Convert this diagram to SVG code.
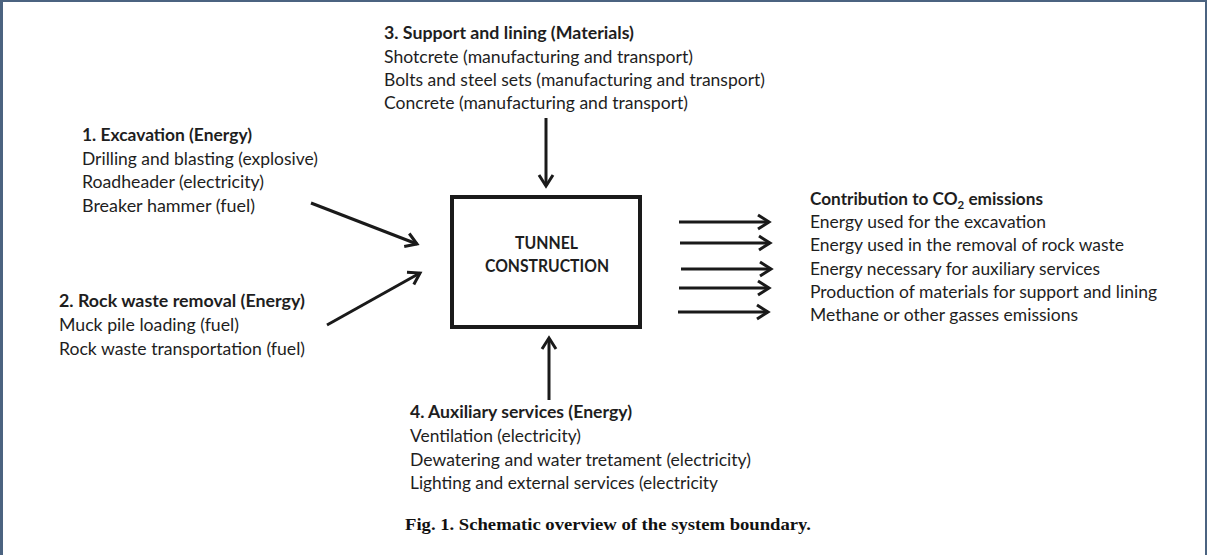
<svg xmlns="http://www.w3.org/2000/svg" width="1207" height="555" viewBox="0 0 1207 555">
<style>
.t{font-family:Lato,"Open Sans","Liberation Sans",sans-serif;font-size:16.5px;fill:#1e1e1e}
.b{font-weight:bold}
.c{font-family:"Liberation Serif",serif;font-size:17px;font-weight:bold;fill:#111}
.ln{stroke:#1a1a1a;stroke-width:3;fill:none}
</style>
<defs>
<marker id="ah" markerUnits="userSpaceOnUse" markerWidth="20" markerHeight="20" viewBox="-14 -10 20 20" refX="0" refY="0" orient="auto">
<path d="M-11,-7 L0,0 L-11,7" fill="none" stroke="#1a1a1a" stroke-width="3"/>
</marker>
</defs>
<rect x="0" y="0" width="1207" height="555" fill="#ffffff"/>
<rect x="0" y="0" width="1207" height="2" fill="#4b6380"/>
<rect x="0" y="0" width="3" height="555" fill="#4b6380"/>
<rect x="1205" y="0" width="2" height="555" fill="#4b6380"/>

<g id="box">
<rect x="452" y="197" width="188" height="130" fill="#fff" stroke="#1a1a1a" stroke-width="4"/>
<text class="t b" x="546.5" y="249" text-anchor="middle" font-size="15" textLength="63" lengthAdjust="spacingAndGlyphs">TUNNEL</text>
<text class="t b" x="547" y="272" text-anchor="middle" font-size="15" textLength="124" lengthAdjust="spacingAndGlyphs">CONSTRUCTION</text>
</g>

<g id="support">
<text class="t b" x="384" y="39" textLength="250" lengthAdjust="spacingAndGlyphs">3. Support and lining (Materials)</text>
<text class="t" x="384" y="62.5" textLength="309" lengthAdjust="spacingAndGlyphs">Shotcrete (manufacturing and transport)</text>
<text class="t" x="384" y="86" textLength="381" lengthAdjust="spacingAndGlyphs">Bolts and steel sets (manufacturing and transport)</text>
<text class="t" x="384" y="109" textLength="304" lengthAdjust="spacingAndGlyphs">Concrete (manufacturing and transport)</text>
</g>

<g id="excavation">
<text class="t b" x="82" y="141" textLength="170" lengthAdjust="spacingAndGlyphs">1. Excavation (Energy)</text>
<text class="t" x="82" y="164.5" textLength="236" lengthAdjust="spacingAndGlyphs">Drilling and blasting (explosive)</text>
<text class="t" x="82" y="188" textLength="182" lengthAdjust="spacingAndGlyphs">Roadheader (electricity)</text>
<text class="t" x="82" y="211.5" textLength="173" lengthAdjust="spacingAndGlyphs">Breaker hammer (fuel)</text>
</g>

<g id="rockwaste">
<text class="t b" x="59" y="307" textLength="246" lengthAdjust="spacingAndGlyphs">2. Rock waste removal (Energy)</text>
<text class="t" x="59" y="331" textLength="180" lengthAdjust="spacingAndGlyphs">Muck pile loading (fuel)</text>
<text class="t" x="59" y="354.5" textLength="246" lengthAdjust="spacingAndGlyphs">Rock waste transportation (fuel)</text>
</g>

<g id="auxiliary">
<text class="t b" x="410" y="418" textLength="222" lengthAdjust="spacingAndGlyphs">4. Auxiliary services (Energy)</text>
<text class="t" x="410" y="442" textLength="171" lengthAdjust="spacingAndGlyphs">Ventilation (electricity)</text>
<text class="t" x="410" y="465.5" textLength="341" lengthAdjust="spacingAndGlyphs">Dewatering and water tretament (electricity)</text>
<text class="t" x="410" y="489" textLength="308" lengthAdjust="spacingAndGlyphs">Lighting and external services (electricity</text>
</g>

<g id="emissions">
<text class="t b" x="810" y="205" textLength="233" lengthAdjust="spacingAndGlyphs">Contribution to CO<tspan font-size="11" dy="4">2</tspan><tspan dy="-4"> emissions</tspan></text>
<text class="t" x="810" y="228" textLength="236" lengthAdjust="spacingAndGlyphs">Energy used for the excavation</text>
<text class="t" x="810" y="251" textLength="314" lengthAdjust="spacingAndGlyphs">Energy used in the removal of rock waste</text>
<text class="t" x="810" y="275" textLength="290" lengthAdjust="spacingAndGlyphs">Energy necessary for auxiliary services</text>
<text class="t" x="810" y="298" textLength="347" lengthAdjust="spacingAndGlyphs">Production of materials for support and lining</text>
<text class="t" x="810" y="321" textLength="268" lengthAdjust="spacingAndGlyphs">Methane or other gasses emissions</text>
</g>

<g id="connectors">
<line class="ln" x1="311" y1="203" x2="417" y2="244" marker-end="url(#ah)"/>
<line class="ln" x1="327" y1="325" x2="420" y2="273" marker-end="url(#ah)"/>
<line class="ln" x1="546" y1="118" x2="546" y2="186" marker-end="url(#ah)"/>
<line class="ln" x1="549" y1="400" x2="549" y2="338" marker-end="url(#ah)"/>
<line class="ln" x1="679" y1="222" x2="769" y2="222" marker-end="url(#ah)"/>
<line class="ln" x1="680" y1="243" x2="770" y2="243" marker-end="url(#ah)"/>
<line class="ln" x1="681" y1="269" x2="771" y2="269" marker-end="url(#ah)"/>
<line class="ln" x1="679" y1="288" x2="769" y2="288" marker-end="url(#ah)"/>
<line class="ln" x1="678" y1="312" x2="768" y2="312" marker-end="url(#ah)"/>
</g>

<g id="caption">
<text class="c" x="405" y="530" textLength="406" lengthAdjust="spacingAndGlyphs">Fig. 1. Schematic overview of the system boundary.</text>
</g>
</svg>
